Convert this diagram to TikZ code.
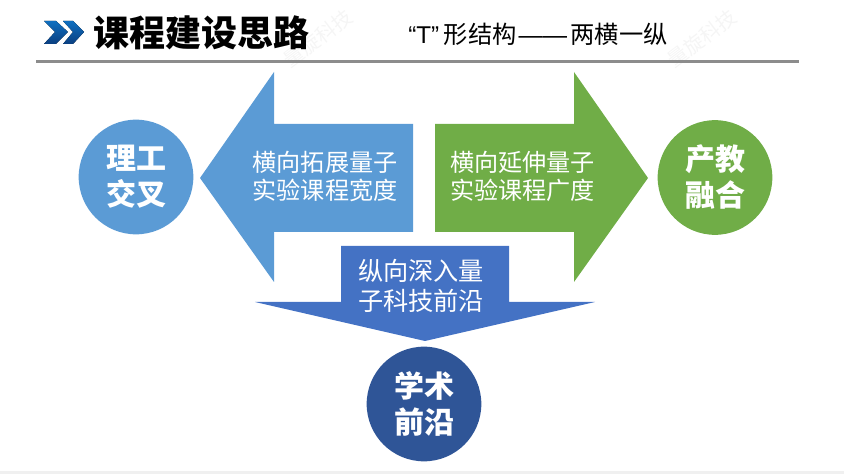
\documentclass[tikz,border=0pt]{standalone}
\usepackage{fontspec}
\setmainfont{Noto Sans CJK SC}
\newfontfamily\latinfont{Liberation Sans}
\definecolor{lightblue}{HTML}{5B9BD5}
\definecolor{midblue}{HTML}{4472C4}
\definecolor{darkblue}{HTML}{2F5597}
\definecolor{leafgreen}{HTML}{70AD47}
\definecolor{rulegray}{HTML}{8C8C8C}
\definecolor{stripgray}{HTML}{F0F0F0}
\definecolor{chevtop}{HTML}{0F6FC0}
\definecolor{chevbottom}{HTML}{0B3F80}

\begin{document}
\begin{tikzpicture}[x=0.75pt,y=-0.75pt]
            \tikzset{disc/.style = {shape=circle, minimum size=86pt, inner sep=0pt, text=white, align=center, font=\fontsize{22.5}{27}\selectfont\bfseries}}
            \tikzset{armtext/.style = {text=white, align=center, inner sep=0pt, font=\fontsize{18.1}{21.6}\selectfont}}
            \tikzset{chevron/.style = {top color=chevtop, bottom color=chevbottom, draw=none}}
            \tikzset{stamp/.style = {text=black!4, rotate=37, font=\fontsize{15}{15}\selectfont}}
            \useasboundingbox (0,0) rectangle (844,474);
            \fill[stripgray] (0,471) rectangle (844,474);
            % faint marks
            \node[stamp] (stampa) at (318,38) {量旋科技};
            \node[stamp] (stampb) at (702,38) {量旋科技};
            % heading
            \fill[chevron] (44,21) -- (56,21) -- (68,32) -- (56,44) -- (44,44) -- (55,32) -- cycle;
            \fill[chevron] (63,21) -- (73,21) -- (84,32) -- (73,44) -- (63,44) -- (73,32) -- cycle;
            \node[anchor=west, inner sep=0pt, font=\fontsize{27}{32}\selectfont\bfseries] (title) at (93,33) {课程建设思路};
            \node[anchor=west, inner sep=0pt, font=\fontsize{18.2}{21}\selectfont] (subtitle) at (408,34) {{\latinfont “T”}\hspace{3.5pt}形结构\hspace{1.5pt}{\latinfont ——}\hspace{2.5pt}两横一纵};
            \fill[rulegray] (36,60) rectangle (799,63);
            % arrows
            \fill[lightblue] (200,178) -- (274,72) -- (274,124) -- (413,124) -- (413,232) -- (274,232) -- (274,282) -- cycle;
            \fill[leafgreen] (648,178) -- (574,72) -- (574,124) -- (435,124) -- (435,232) -- (574,232) -- (574,282) -- cycle;
            \fill[midblue] (341,246) -- (509,246) -- (509,302) -- (595,302) -- (425,341) -- (255,302) -- (341,302) -- cycle;
            % arrow labels
            \node[armtext] (left) at (325,176.5) {横向拓展量子\\实验课程宽度};
            \node[armtext,font=\fontsize{18.9}{22}\selectfont] (down) at (421,286) {纵向深入量\\子科技前沿};
            \node[armtext] (right) at (522.5,176.5) {横向延伸量子\\实验课程广度};
            % circles
            \node[disc,fill=lightblue] (science) at (136,177) {理工\\交叉};
            \node[disc,fill=leafgreen] (industry) at (715,177.5) {产教\\融合};
            \node[disc,fill=darkblue] (academic) at (424,404) {学术\\前沿};
        \end{tikzpicture}
\end{document}
